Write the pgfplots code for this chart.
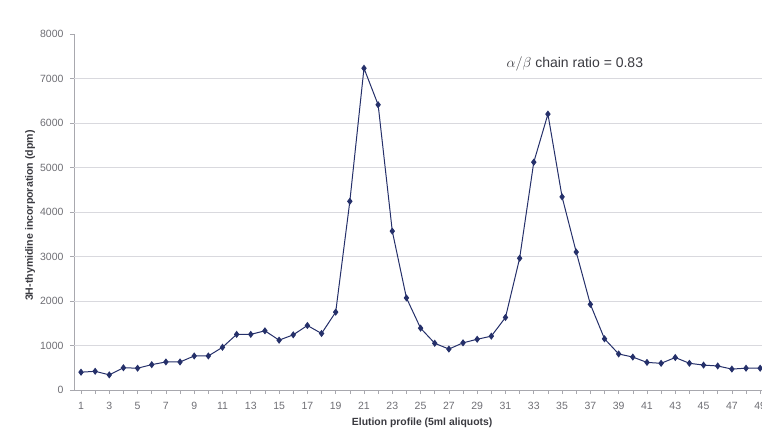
\documentclass[border=0pt]{standalone}
\usepackage{pgfplots}
\pgfplotsset{compat=1.18}
\usepackage{fontspec}
\setmainfont{Liberation Sans}
\definecolor{navy}{HTML}{25306A}
\definecolor{gridc}{HTML}{D9D9DE}
\definecolor{axc}{HTML}{A8A8AE}
\definecolor{txt}{HTML}{6E6E74}
\definecolor{lab}{HTML}{3A3A40}
\begin{document}
\begin{tikzpicture}
\useasboundingbox (-74pt,-38pt) rectangle (688pt,390pt);
\begin{axis}[
  at={(0pt,0pt)}, anchor=south west,
  scale only axis, width=688pt, height=356pt,
  xmin=0.505, xmax=49.13, ymin=0, ymax=8000,
  axis lines=left, axis line style={draw=axc, -},
  xtick={1,3,...,49}, minor xtick={2,4,...,48},
  ytick={0,1000,...,8000},
  extra y ticks={1000,2000,...,7000}, extra y tick labels={},
  extra y tick style={grid=major, major tick length=0pt},
  grid style={draw=gridc, line width=0.6pt},
  tick style={draw=axc, line width=0.6pt},
  major tick length=4pt, minor tick length=4pt,
  tick align=outside, xtick pos=bottom, ytick pos=left,
  /pgf/number format/assume math mode=true,
  /pgf/number format/set thousands separator={},
  ticklabel style={font=\fontsize{10.5}{12}\selectfont, text=txt},
  xticklabel style={yshift=-5pt},
  yticklabel style={xshift=-3pt},
  xlabel={\textbf{Elution profile (5ml aliquots)}},
  xlabel style={font=\fontsize{10.4}{12}\selectfont, text=lab, at={(axis description cs:0.506,0)}, anchor=center, yshift=-33pt},
  ylabel={\textbf{3H-thymidine incorporation (dpm)}},
  ylabel style={font=\fontsize{10.6}{12}\selectfont, text=lab, at={(axis description cs:-0.0636,0.49)}, anchor=center},
  clip=false,
]
\addplot[color=navy, line width=1pt, mark=diamond*, mark size=2.8pt, mark options={fill=navy, draw=navy}]
coordinates {
(1,400)(2,420)(3,340)(4,500)(5,490)(6,570)(7,630)(8,630)(9,765)(10,765)
(11,960)(12,1250)(13,1250)(14,1330)(15,1120)(16,1240)(17,1450)(18,1270)(19,1750)(20,4240)
(21,7230)(22,6410)(23,3570)(24,2070)(25,1390)(26,1050)(27,920)(28,1060)(29,1140)(30,1210)
(31,1630)(32,2960)(33,5120)(34,6200)(35,4340)(36,3100)(37,1925)(38,1150)(39,810)(40,740)
(41,620)(42,600)(43,730)(44,600)(45,560)(46,540)(47,470)(48,490)(49,490)
};
\node[font=\fontsize{14}{16}\selectfont, text=lab] at (axis cs:35.9,7330) {$\alpha/\beta$ chain ratio = 0.83};
\end{axis}
\end{tikzpicture}
\end{document}
